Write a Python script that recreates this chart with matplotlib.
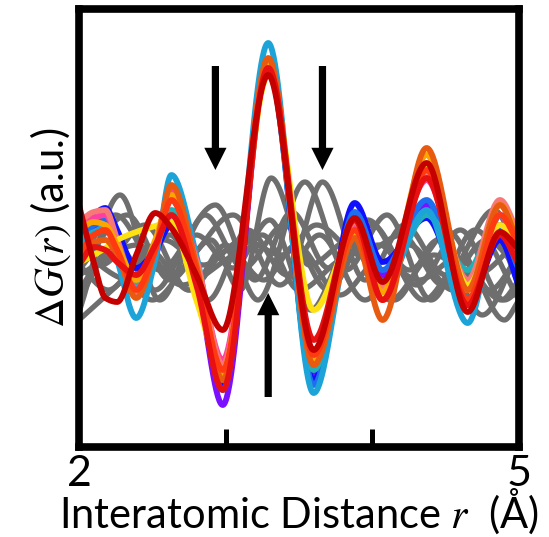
import numpy as np
import matplotlib
matplotlib.use("Agg")
from matplotlib import pyplot as plt

plt.rcParams['font.family'] = ['Lato', 'DejaVu Sans']
plt.rcParams['mathtext.fontset'] = 'stix'

# knot positions (r, Angstrom) shared by the coloured difference curves
r_col = [2.00, 2.10, 2.18, 2.26, 2.39, 2.52, 2.63, 2.80, 2.98,
         3.29, 3.60, 3.88, 4.07, 4.37, 4.65, 4.87, 5.00]

g_violet = [-1.7, 0.0, 0.8, -1.2, -5.2, -2.7, 1.3, -5.2, -17.7, 16.6, -14.7, 0.6, -4.7, 2.3, -7.7, 0.3, -4.7]
g_blue = [-0.7, 1.3, 2.0, -0.2, -4.0, -2.2, 0.3, -4.7, -15.7, 16.0, -15.2, 2.5, -3.4, 1.0, -7.5, -1.2, -5.9]
g_dodger = [-1.0, 0.3, 0.8, -1.2, -5.7, -1.7, 2.8, -4.2, -16.2, 16.8, -15.7, 1.6, -4.2, 2.8, -7.2, -0.2, -4.2]
g_teal = [-1.2, -0.4, 0.0, -1.7, -5.7, -2.2, 1.8, -4.2, -14.2, 15.8, -14.2, 0.0, -5.7, 1.3, -4.2, 1.3, -2.7]
g_cyan = [-1.7, -0.7, 0.3, -3.2, -9.0, -3.2, 5.3, -2.7, -15.2, 18.5, -16.5, 0.3, -6.2, 1.8, -9.5, 1.3, -2.2]
g_pink = [0.0, 1.0, 1.3, -1.2, -6.2, -1.7, 3.8, -3.2, -13.2, 16.3, -13.2, 0.0, -5.7, 4.8, -6.2, 1.3, -2.2]
g_salmon = [0.6, 1.6, 1.8, -1.2, -6.7, -2.2, 2.8, -3.2, -13.7, 15.8, -12.7, 0.6, -6.0, 5.3, -5.2, 2.8, -0.7]
g_yellow = [-3.5, -2.7, -2.0, -1.2, -0.4, 0.2, 0.6, -7.2, -14.2, 15.3, -8.2, -0.7, -7.0, 6.3, -5.7, 0.3, -2.2]
g_orange = [-0.2, 0.6, 0.3, -1.7, -5.2, -1.2, 3.3, -3.7, -14.7, 16.6, -13.2, -0.4, -6.4, 7.3, -6.2, 2.3, -1.2]
g_darkorange = [-2.2, -1.4, -1.2, -2.7, -7.0, -2.2, 4.3, -3.7, -15.2, 17.0, -13.7, -1.0, -9.2, 8.0, -6.2, 2.3, -1.7]
g_redorange = [-2.7, -0.7, -0.2, -2.2, -6.2, -2.2, 2.8, -4.2, -14.2, 16.0, -12.7, -0.2, -7.2, 5.8, -7.2, 1.3, -1.7]
g_red = [-3.7, -1.9, -2.2, -3.4, -4.7, -1.7, 1.3, -5.7, -16.2, 16.0, -11.2, 0.8, -7.2, 5.0, -7.7, -0.7, -3.7]
g_darkred = [2.3, -3.4, -7.0, -7.4, -2.7, 1.5, 0.0, -4.7, -10.2, 15.3, -12.2, 1.0, -5.4, 6.5, -8.4, -0.4, -2.2]

colored = [g_violet, g_blue, g_dodger, g_teal, g_cyan, g_pink, g_salmon,
           g_yellow, g_orange, g_darkorange, g_redorange, g_red, g_darkred]
colors = ['#7a10ff', '#1010ff', '#1e6ff0', '#20b0b8', '#1ca3d8', '#ff3fa0', '#f87878',
          '#ffe010', '#ffa500', '#e85a10', '#ff3a10', '#e81010', '#c40000']

# reference (grey) curves, each with its own knots
gray_r = [
    [2.00, 2.28, 2.55, 2.86, 3.12, 3.40, 3.70, 4.00, 4.30, 4.60, 4.90, 5.00],
    [2.00, 2.25, 2.55, 2.93, 3.20, 3.45, 3.70, 3.97, 4.25, 4.52, 4.80, 5.00],
    [2.00, 2.33, 2.62, 2.90, 3.10, 3.31, 3.57, 3.85, 4.15, 4.45, 4.75, 5.00],
    [2.00, 2.15, 2.45, 2.75, 3.00, 3.22, 3.54, 3.82, 4.10, 4.40, 4.70, 5.00],
    [2.00, 2.35, 2.62, 2.88, 3.15, 3.42, 3.66, 3.95, 4.22, 4.50, 4.83, 5.00],
    [2.00, 2.25, 2.52, 2.80, 3.05, 3.30, 3.58, 3.85, 4.12, 4.42, 4.70, 5.00],
    [2.00, 2.20, 2.50, 2.78, 3.05, 3.37, 3.64, 3.95, 4.25, 4.55, 4.85, 5.00],
    [2.00, 2.40, 2.70, 3.00, 3.25, 3.50, 3.78, 4.05, 4.35, 4.62, 4.90, 5.00],
    [2.00, 2.30, 2.58, 2.85, 3.12, 3.38, 3.62, 3.92, 4.20, 4.48, 4.78, 5.00],
    [2.00, 2.20, 2.48, 2.75, 3.02, 3.26, 3.48, 3.78, 4.05, 4.32, 4.58, 4.88, 5.00],
]
gray_g = [
    [-8.4, 3.3, -7.2, 1.3, -4.0, 0.3, -6.2, 0.3, -5.7, -0.2, -7.2, -6.2],
    [-3.2, 1.3, -4.2, 2.3, -5.2, 1.6, -4.0, 0.8, -4.2, -0.4, -6.2, -2.7],
    [-4.2, 1.3, -5.2, -1.2, -6.2, 5.0, -3.7, -1.2, -7.2, -1.2, -8.7, -2.2],
    [-1.2, -3.7, 0.3, -6.2, -1.7, -7.2, 4.6, -4.2, 1.3, -7.2, -0.2, -7.2],
    [-2.2, -5.2, -0.7, -7.2, -0.2, -4.7, 4.6, -5.2, 0.3, -4.7, 1.8, -2.7],
    [-6.2, -1.7, -6.2, -0.7, -4.0, 0.8, -8.2, -1.7, -7.2, -2.7, -4.7, -1.2],
    [-7.2, -2.7, -7.2, -2.7, 1.3, -5.7, -0.7, -7.2, -1.7, -6.2, -1.2, -5.7],
    [-4.7, -1.7, -5.7, -3.2, -0.7, -6.2, -3.2, -1.7, -7.2, -3.2, -9.2, -7.2],
    [-9.2, -5.2, -1.2, -3.7, -1.2, -2.7, 0.3, -2.7, -0.7, -5.7, -1.2, -4.2],
    [-3.7, -6.2, -2.2, -6.2, -2.2, -5.2, -1.7, -6.7, -3.2, -5.2, -3.0, -7.2, -5.2],
]

# arrows: (r, tail G, head G)
arrows = [(2.93, 16.2, 5.8), (3.66, 16.2, 5.8), (3.29, -16.9, -6.5)]


def pchip(xk, yk, x):
    # monotone cubic through the knots, flat at local extrema
    xk = np.asarray(xk, float)
    yk = np.asarray(yk, float)
    h = np.diff(xk)
    d = np.diff(yk) / h
    n = len(xk)
    m = np.zeros(n)
    for k in range(1, n - 1):
        if d[k - 1] * d[k] > 0:
            w1 = 2 * h[k] + h[k - 1]
            w2 = h[k] + 2 * h[k - 1]
            m[k] = (w1 + w2) / (w1 / d[k - 1] + w2 / d[k])
    m[0] = d[0]
    m[-1] = d[-1]
    i = np.clip(np.searchsorted(xk, x) - 1, 0, n - 2)
    t = (x - xk[i]) / h[i]
    h00 = 2 * t**3 - 3 * t**2 + 1
    h10 = t**3 - 2 * t**2 + t
    h01 = -2 * t**3 + 3 * t**2
    h11 = t**3 - t**2
    return h00 * yk[i] + h10 * h[i] * m[i] + h01 * yk[i + 1] + h11 * h[i] * m[i + 1]


fig = plt.figure(figsize=(5.49, 5.37), dpi=100)
ax = fig.add_axes([79 / 549, 1 - 447 / 537, 440 / 549, 438 / 537])

r = np.linspace(2.0, 5.0, 600)
for rk, gk in zip(gray_r, gray_g):
    ax.plot(r, pchip(rk, gk, r), color='#6e6e6e', lw=3.8, solid_capstyle='round')
for gk, c in zip(colored, colors):
    ax.plot(r, pchip(r_col, gk, r), color=c, lw=4.2, solid_capstyle='round')

for x, y0, y1 in arrows:
    ax.annotate('', xy=(x, y1), xytext=(x, y0),
                arrowprops=dict(arrowstyle='simple,head_length=16,head_width=16,tail_width=5.2',
                                fc='black', ec='none', lw=0, mutation_scale=1,
                                shrinkA=0, shrinkB=0))

ax.set_xlim(2, 5)
ax.set_ylim(-21.9, 21.9)
ax.set_xticks([2, 3, 4, 5])
ax.set_xticklabels(['2', '', '', '5'])
ax.set_yticks([])
ax.tick_params(axis='x', direction='in', length=13, width=3.6, labelsize=31, pad=6)
for s in ax.spines.values():
    s.set_linewidth(5.5)

ax.set_xlabel('Interatomic Distance $r$  (Å)', fontsize=30, labelpad=-5)
ax.set_ylabel('$\\Delta G(r)$ (a.u.)', fontsize=30, labelpad=4)

fig.savefig('out.png', dpi=100)
